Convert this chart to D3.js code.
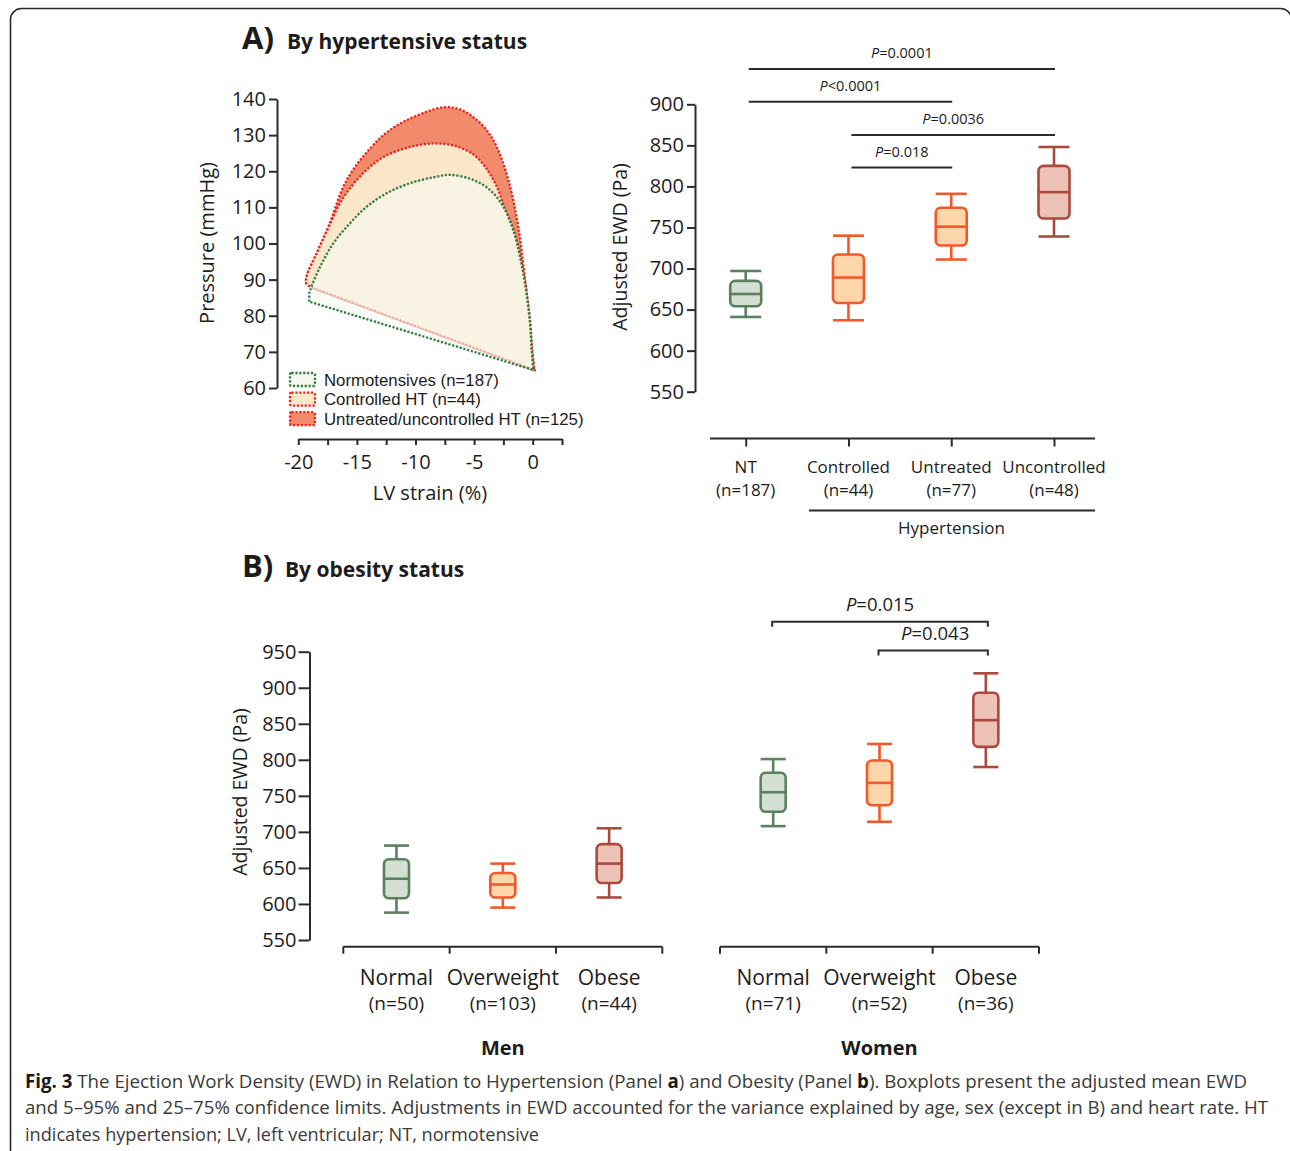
<!DOCTYPE html>
<html><head><meta charset="utf-8">
<script src="https://cdn.jsdelivr.net/npm/d3@7/dist/d3.min.js"></script>
<style>
html,body{margin:0;padding:0;background:#fff;}
svg{display:block;font-family:"Open Sans",sans-serif;}
</style></head>
<body>
<svg id="chart" width="1290" height="1151"></svg>
<script>
// ---------------- DATA ----------------
// Panel A left: pressure-strain loops [strain %, pressure mmHg]
const loopNames = ["Normotensives (n=187)", "Controlled HT (n=44)", "Untreated/uncontrolled HT (n=125)"];
const untreatedLoop = [[-18.7,87.6],[-19.3,88.9],[-19.3,90.8],[-18.4,97.5],[-17.44,104.6],[-15.87,117.6],[-13.74,126.8],[-12.18,131.4],[-10.19,135.0],[-7.6,137.7],[-6.3,137.2],[-5.07,135.0],[-3.93,131.4],[-3.07,126.8],[-2.08,117.6],[-1.23,104.6],[-0.66,89.9],[-0.09,71.5],[0.16,65.0]];
const controlledLoop = [[-18.7,87.6],[-19.3,88.9],[-19.3,90.8],[-18.4,97.5],[-17.4,104.6],[-16.2,112.5],[-14.45,119.5],[-12.7,124.0],[-10.6,126.6],[-8.5,127.7],[-6.6,127.0],[-5.0,124.5],[-3.9,120.5],[-3.0,115.3],[-2.45,110.2],[-1.62,103.7],[-1.05,96.3],[-0.63,89.0],[-0.2,77.9],[-0.06,70.5],[0.08,65.0]];
const normoLoop = [[-19.06,83.9],[-19.06,86.2],[-18.99,87.1],[-18.13,93.6],[-17.01,100.05],[-15.59,105.6],[-14.16,110.2],[-12.46,113.9],[-10.47,116.7],[-8.48,118.3],[-7.06,119.0],[-5.07,117.6],[-3.64,114.8],[-2.51,110.2],[-1.66,103.7],[-1.08,96.3],[-0.66,89.0],[-0.23,77.9],[-0.09,70.5],[0.05,65.0]];
const pressureTicks = [60,70,80,90,100,110,120,130,140];
const strainTicks = [-20,-17.5,-15,-12.5,-10,-7.5,-5,-2.5,0,2.5];
const strainLabels = [-20,-15,-10,-5,0];

// Panel A right: EWD by hypertensive status
const htCategories = ["NT","Controlled","Untreated","Uncontrolled"];
const htN = ["(n=187)","(n=44)","(n=77)","(n=48)"];
const htLow    = [641, 637, 711, 739];
const htQ1     = [654, 658, 728, 761];
const htMedian = [669, 689, 751, 793];
const htQ3     = [685, 717, 774, 825];
const htHigh   = [697, 740, 791, 848];
const htTicks = [550,600,650,700,750,800,850,900];
const htCompFrom  = [0, 0, 1, 1];
const htCompTo    = [3, 2, 3, 2];
const htCompLabel = ["=0.0001", "<0.0001", "=0.0036", "=0.018"];
const htCompLevel = [943, 903, 862.5, 823];

// Panel B: EWD by obesity status
const obCategories = ["Normal","Overweight","Obese"];
const menN   = ["(n=50)","(n=103)","(n=44)"];
const womenN = ["(n=71)","(n=52)","(n=36)"];
const menLow    = [588, 595, 609];
const menQ1     = [608, 609, 629];
const menMedian = [635, 627, 656];
const menQ3     = [662, 643, 683];
const menHigh   = [681, 656, 705];
const womenLow    = [708, 714, 790];
const womenQ1     = [728, 737, 818];
const womenMedian = [755, 768, 855];
const womenQ3     = [782, 799, 893];
const womenHigh   = [801, 822, 920];
const obTicks = [550,600,650,700,750,800,850,900,950];
const obCompFrom  = [0, 1];
const obCompTo    = [2, 2];
const obCompLabel = ["=0.015", "=0.043"];
const obCompLevel = [991.5, 951.5];

// ---------------- STYLE ----------------
const greenStroke = "#5b8060", greenFill = "#d3dfd2";
const orangeStroke = "#f1592a", orangeFill = "#fdd6a9";
const brownStroke = "#a94a3d", brownFill = "#ecc2b6";
const htStroke = [greenStroke, orangeStroke, orangeStroke, brownStroke];
const htFill = [greenFill, orangeFill, orangeFill, brownFill];
const obStroke = [greenStroke, orangeStroke, brownStroke];
const obFill = [greenFill, orangeFill, brownFill];
const ink = "#1c1c1c", axisCol = "#2b2b2b";

const svg = d3.select("#chart");

// frame
svg.append("rect").attr("x",10.5).attr("y",8.5).attr("width",1281).attr("height",1250)
  .attr("rx",11).attr("fill","none").attr("stroke","#2a2a2a").attr("stroke-width",1.6);

// titles
function title(x, y, letter, txt, x2) {
  svg.append("text").attr("x",x).attr("y",y).attr("font-size",31).attr("font-weight",700).attr("fill",ink).text(letter);
  svg.append("text").attr("x",x2).attr("y",y).attr("font-size",21).attr("font-weight",700).attr("fill",ink).text(txt);
}
title(242, 49, "A)", "By hypertensive status", 287);
title(242, 577, "B)", "By obesity status", 285);

function styleAxis(g, fs) {
  g.selectAll("path.domain").attr("stroke",axisCol).attr("stroke-width",2);
  g.selectAll(".tick line").attr("stroke",axisCol).attr("stroke-width",2);
  g.selectAll(".tick text").attr("fill",ink).attr("font-size",fs).attr("font-family","'Open Sans',sans-serif");
}

// ---------------- PANEL A LEFT: loops ----------------
const xS = d3.scaleLinear().domain([-20, 2.5]).range([298.3, 562]);
const yP = d3.scaleLinear().domain([60, 140]).range([388, 99]);

const gyP = svg.append("g").attr("transform","translate(277,0)")
  .call(d3.axisLeft(yP).tickValues(pressureTicks).tickSize(8).tickSizeOuter(0).tickPadding(3));
styleAxis(gyP, 20);
const gxS = svg.append("g").attr("transform","translate(0,439)")
  .call(d3.axisBottom(xS).tickValues(strainTicks).tickSize(6).tickSizeOuter(0)
    .tickFormat(d => strainLabels.includes(d) ? String(d) : ""));
styleAxis(gxS, 20);
gxS.selectAll(".tick text").attr("dy","1.05em");

svg.append("text").attr("transform","translate(214,243) rotate(-90)").attr("text-anchor","middle")
  .attr("font-size",20).attr("fill",ink).text("Pressure (mmHg)");
svg.append("text").attr("x",430).attr("y",500).attr("text-anchor","middle")
  .attr("font-size",20).attr("fill",ink).text("LV strain (%)");

const loopLine = d3.line().x(d => xS(d[0])).y(d => yP(d[1])).curve(d3.curveCatmullRom.alpha(0.5));
const red = "#e8231e", green = "#2f7a3c";
const loopFill = ["rgba(246,250,240,0.62)", "#fde7cb", "#f28b6c"];
const loopStroke = [green, red, red];
const loopData = [normoLoop, controlledLoop, untreatedLoop];
[2,1,0].forEach(i => {
  svg.append("path").attr("d", loopLine(loopData[i]) + "Z")
    .attr("fill", loopFill[i]).attr("stroke", loopStroke[i])
    .attr("stroke-width", 2.3).attr("stroke-dasharray","2.2 1.7");
});

// legend
loopNames.forEach((name, i) => {
  const yy = 373 + i*19.6;
  svg.append("rect").attr("x",290).attr("y",yy).attr("width",25).attr("height",13).attr("rx",1.5)
    .attr("fill", i===0 ? "#f5f8f1" : loopFill[i]).attr("stroke", loopStroke[i])
    .attr("stroke-width",2.3).attr("stroke-dasharray","2.2 1.7");
  svg.append("text").attr("x",324).attr("y",yy+12.5).attr("font-size",16.8)
    .attr("font-family","'Liberation Sans',Arial,sans-serif").attr("fill",ink).text(name);
});

// ---------------- PANEL A RIGHT: EWD by HT ----------------
const yE = d3.scaleLinear().domain([550, 900]).range([391.7, 104.3]);
const xHT = d3.scalePoint().domain(htCategories).range([745.7, 1054]);
const gyE = svg.append("g").attr("transform","translate(695,0)")
  .call(d3.axisLeft(yE).tickValues(htTicks).tickSize(8).tickSizeOuter(0).tickPadding(3));
styleAxis(gyE, 20);
svg.append("text").attr("transform","translate(627,247) rotate(-90)").attr("text-anchor","middle")
  .attr("font-size",19.5).attr("fill",ink).text("Adjusted EWD (Pa)");

const gxHT = svg.append("g").attr("transform","translate(0,438.5)")
  .call(d3.axisBottom(xHT).tickSize(8).tickSizeOuter(0).tickFormat(""));
styleAxis(gxHT, 17);
gxHT.select("path.domain").remove();
svg.append("line").attr("x1",710).attr("x2",1095).attr("y1",438.5).attr("y2",438.5)
  .attr("stroke",axisCol).attr("stroke-width",2);
htCategories.forEach((c,i) => {
  svg.append("text").attr("x",xHT(c)).attr("y",472.5).attr("text-anchor","middle").attr("font-size",17).attr("fill",ink).text(c);
  svg.append("text").attr("x",xHT(c)).attr("y",496).attr("text-anchor","middle").attr("font-size",17).attr("fill",ink).text(htN[i]);
});
svg.append("line").attr("x1",809).attr("x2",1095).attr("y1",510.5).attr("y2",510.5).attr("stroke",axisCol).attr("stroke-width",2);
svg.append("text").attr("x",951.5).attr("y",534).attr("text-anchor","middle").attr("font-size",17).attr("fill",ink).text("Hypertension");

function drawBox(x, yScale, lo, q1, med, q3, hi, w, stroke, fill) {
  const g = svg.append("g").attr("stroke",stroke).attr("stroke-width",2.6).attr("fill","none");
  g.append("line").attr("x1",x).attr("x2",x).attr("y1",yScale(hi)).attr("y2",yScale(q3));
  g.append("line").attr("x1",x).attr("x2",x).attr("y1",yScale(q1)).attr("y2",yScale(lo));
  g.append("line").attr("x1",x-w/2).attr("x2",x+w/2).attr("y1",yScale(hi)).attr("y2",yScale(hi));
  g.append("line").attr("x1",x-w/2).attr("x2",x+w/2).attr("y1",yScale(lo)).attr("y2",yScale(lo));
  g.append("rect").attr("x",x-w/2).attr("y",yScale(q3)).attr("width",w).attr("height",yScale(q1)-yScale(q3))
    .attr("rx",5).attr("fill",fill);
  g.append("line").attr("x1",x-w/2).attr("x2",x+w/2).attr("y1",yScale(med)).attr("y2",yScale(med));
}
htCategories.forEach((c,i) => drawBox(xHT(c), yE, htLow[i], htQ1[i], htMedian[i], htQ3[i], htHigh[i], 31, htStroke[i], htFill[i]));

function pLabel(x, y, op, fs) {
  const t = svg.append("text").attr("x",x).attr("y",y).attr("text-anchor","middle").attr("font-size",fs).attr("fill",ink);
  t.append("tspan").attr("font-style","italic").text("P");
  t.append("tspan").text(op);
}
htCompFrom.forEach((f,i) => {
  const x1 = xHT(htCategories[f]) + 3, x2 = xHT(htCategories[htCompTo[i]]) + 1, yy = yE(htCompLevel[i]);
  svg.append("line").attr("x1",x1).attr("x2",x2).attr("y1",yy).attr("y2",yy).attr("stroke",axisCol).attr("stroke-width",2);
  pLabel((x1+x2)/2, yy-11, htCompLabel[i], 14.5);
});

// ---------------- PANEL B ----------------
const yO = d3.scaleLinear().domain([550, 950]).range([940, 651.7]);
const xMen = d3.scaleBand().domain(obCategories).range([343.3, 662.3]);
const xWomen = d3.scaleBand().domain(obCategories).range([720, 1039]);
const gyO = svg.append("g").attr("transform","translate(309.5,0)")
  .call(d3.axisLeft(yO).tickValues(obTicks).tickSize(11).tickSizeOuter(0).tickPadding(2));
styleAxis(gyO, 20);
svg.append("text").attr("transform","translate(247,792) rotate(-90)").attr("text-anchor","middle")
  .attr("font-size",19.5).attr("fill",ink).text("Adjusted EWD (Pa)");

function groupAxis(xb, nLabels, groupName, low, q1, med, q3, hi) {
  const y0 = 946.7;
  const r = xb.range();
  svg.append("line").attr("x1",r[0]).attr("x2",r[1]).attr("y1",y0).attr("y2",y0).attr("stroke",axisCol).attr("stroke-width",2);
  const edges = xb.domain().map(c => xb(c)).concat([r[1]]);
  edges.forEach(e => svg.append("line").attr("x1",e).attr("x2",e).attr("y1",y0).attr("y2",y0+7).attr("stroke",axisCol).attr("stroke-width",2));
  xb.domain().forEach((c,i) => {
    const cx = xb(c) + xb.bandwidth()/2;
    svg.append("text").attr("x",cx).attr("y",984.5).attr("text-anchor","middle").attr("font-size",21).attr("fill",ink).text(c);
    svg.append("text").attr("x",cx).attr("y",1009.5).attr("text-anchor","middle").attr("font-size",19).attr("fill",ink).text(nLabels[i]);
    drawBox(cx, yO, low[i], q1[i], med[i], q3[i], hi[i], 25, obStroke[i], obFill[i]);
  });
  svg.append("text").attr("x",(r[0]+r[1])/2).attr("y",1055).attr("text-anchor","middle")
    .attr("font-size",20).attr("font-weight",700).attr("fill",ink).text(groupName);
}
groupAxis(xMen, menN, "Men", menLow, menQ1, menMedian, menQ3, menHigh);
groupAxis(xWomen, womenN, "Women", womenLow, womenQ1, womenMedian, womenQ3, womenHigh);

obCompFrom.forEach((f,i) => {
  const x1 = xWomen(obCategories[f]) + xWomen.bandwidth()/2 - 1;
  const x2 = xWomen(obCategories[obCompTo[i]]) + xWomen.bandwidth()/2 + 2;
  const yy = yO(obCompLevel[i]);
  svg.append("path").attr("d",`M${x1},${yy+5}V${yy}H${x2}V${yy+5}`).attr("fill","none")
    .attr("stroke",axisCol).attr("stroke-width",2);
  pLabel(i===0 ? (x1+x2)/2 : (x1+x2)/2 + 2, yy-11, obCompLabel[i], 18.5);
});

// ---------------- CAPTION ----------------
const capLines = [
  [["Fig. 3",700],[" The Ejection Work Density (EWD) in Relation to Hypertension (Panel ",400],["a",700],[") and Obesity (Panel ",400],["b",700],["). Boxplots present the adjusted mean EWD",400]],
  [["and 5–95% and 25–75% confidence limits. Adjustments in EWD accounted for the variance explained by age, sex (except in B) and heart rate. HT",400]],
  [["indicates hypertension; LV, left ventricular; NT, normotensive",400]]
];
const capWidths = [1222, 1243, 514];
const capY = [1088, 1114, 1141];
capLines.forEach((parts,i) => {
  const t = svg.append("text").attr("x",25).attr("y",capY[i]).attr("font-size",17.5).attr("fill","#333");
  parts.forEach(p => t.append("tspan").attr("font-weight",p[1]).attr("fill", p[1]===700 ? "#1a1a1a" : "#3a3a3a").text(p[0]));
  const w = t.node().getComputedTextLength();
  const fs = 17.5 * capWidths[i] / w;
  t.attr("font-size", Math.max(16, Math.min(19.5, fs)));
  t.attr("textLength", capWidths[i]).attr("lengthAdjust","spacingAndGlyphs");
});
</script>
</body></html>
